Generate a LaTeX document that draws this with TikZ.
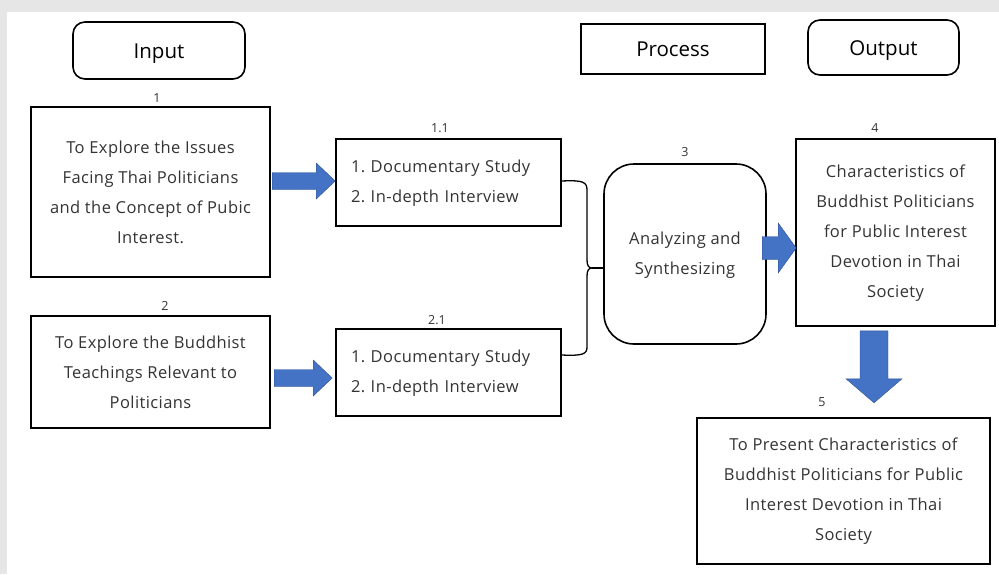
\documentclass[tikz,border=0pt]{standalone}
\usepackage{fontspec}
\setmainfont{Open Sans}
\newfontfamily\bodyfont[LetterSpace=2.5]{Open Sans}
\usetikzlibrary{calc}
\frenchspacing
\definecolor{frame}{HTML}{E6E6E6}
\definecolor{arrowblue}{HTML}{4472C4}
\definecolor{arrowedge}{HTML}{2F528F}
\definecolor{bodytext}{HTML}{333333}
\tikzset{
  head/.style={draw, line width=1.6pt, font=\fontsize{20.5}{24}\selectfont, inner sep=0pt,
    text height=15pt, text depth=0pt, anchor=center},
  roundhead/.style={head, rounded corners=12pt},
  itembox/.style={draw, line width=1.6pt, text=bodytext, align=center, inner sep=0pt,
    font=\bodyfont\fontsize{16.5}{30}\selectfont},
  listbox/.style={itembox, align=left},
  numlabel/.style={text=bodytext, font=\fontsize{12.5}{14}\selectfont, inner sep=0pt},
  blockarrow/.style={fill=arrowblue, draw=arrowedge, line width=0.4pt, line join=miter},
  bracket/.style={draw, line width=1.3pt}
}
% right-pointing block arrow: tip, total length, shaft half height, head half height, head length
\newcommand\rightblock[5]{\path[blockarrow] (#1) -- ++(-#5,-#4) -- ++(0,#4-#3) -- ++(#5-#2,0)
  -- ++(0,2*#3) -- ++(#2-#5,0) -- ++(0,#4-#3) -- cycle;}
% downward block arrow: tip, total length, shaft half width, head half width, head length
\newcommand\downblock[5]{\path[blockarrow] (#1) -- ++(-#4,-#5) -- ++(#4-#3,0) -- ++(0,#5-#2)
  -- ++(2*#3,0) -- ++(0,#2-#5) -- ++(#4-#3,0) -- cycle;}
\begin{document}
\begin{tikzpicture}[x=1pt,y=-1pt]
\useasboundingbox (0,0) rectangle (999,574);
% page frame
\fill[frame] (0,0) rectangle (999,12);
\fill[frame] (0,0) rectangle (7,574);

% column headings
\node[roundhead, minimum width=172pt, minimum height=57pt] (hin) at (159,50.5) {Input};
\node[head, minimum width=184pt, minimum height=50pt] (hpr) at (673,49) {Process};
\node[roundhead, minimum width=151pt, minimum height=55pt] (hout) at (883.5,47.5) {Output};

% input objectives
\node[itembox, minimum width=239pt, minimum height=170pt] (b1) at (150.5,192)
  {To Explore the Issues\\Facing Thai Politicians\\and the Concept of Pubic\\Interest.};
\node[itembox, minimum width=239pt, minimum height=112pt] (b2) at (150.5,372)
  {To Explore the Buddhist\\Teachings Relevant to\\Politicians};

% study methods
\node[listbox, minimum width=225pt, minimum height=87pt, text width=195pt] (b11) at (448.5,182.5)
  {\rule{0pt}{14pt}1. Documentary Study\\2. In-depth Interview};
\node[listbox, minimum width=225pt, minimum height=87pt, text width=195pt] (b21) at (448.5,372.5)
  {\rule{0pt}{14pt}1. Documentary Study\\2. In-depth Interview};

% process
\node[itembox, rounded corners=30pt, minimum width=162pt, minimum height=180pt] (b3) at (685,254)
  {\rule{0pt}{14pt}Analyzing and\\Synthesizing};

% outputs
\node[itembox, minimum width=199pt, minimum height=187pt] (b4) at (895.5,232.5)
  {\rule{0pt}{14pt}Characteristics of\\Buddhist Politicians\\for Public Interest\\Devotion in Thai\\Society};
\node[itembox, minimum width=293pt, minimum height=146pt] (b5) at (843.5,491)
  {To Present Characteristics of\\Buddhist Politicians for Public\\Interest Devotion in Thai\\Society};

% step numbers
\node[numlabel] (n1) at (157,98) {1};
\node[numlabel] (n2) at (165,306) {2};
\node[numlabel] (n11) at (440,128) {1.1};
\node[numlabel] (n21) at (437,320) {2.1};
\node[numlabel] (n3) at (685,152) {3};
\node[numlabel] (n4) at (875,128) {4};
\node[numlabel] (n5) at (822,402) {5};

% block arrows
\rightblock{$(b11.west)+(0,-1.5)$}{63}{8.5}{18}{19}
\rightblock{$(b21.west)+(-3,5.5)$}{58}{8.5}{18}{19}
\rightblock{$(b4.west)+(1,15.5)$}{34}{11.5}{25}{18}
\downblock{$(b4.south)+(-21.5,76)$}{72}{14}{28}{24}

% brace joining the two study boxes into the process
\coordinate (bt) at ($(b11.east)+(0,-1.5)$);
\coordinate (bb) at ($(b21.east)+(0,-17.5)$);
\coordinate (bm) at (592,268);
\draw[bracket] (bt) .. controls (583,180) and (587,182) .. (587,190) -- (587,260)
  .. controls (587,266) and (589,268) .. (bm)
  .. controls (589,268) and (587,270) .. (587,276) -- (587,347)
  .. controls (587,354) and (583,356) .. (bb);
\draw[bracket] (bm) -- (b3.west |- bm);
\end{tikzpicture}
\end{document}
